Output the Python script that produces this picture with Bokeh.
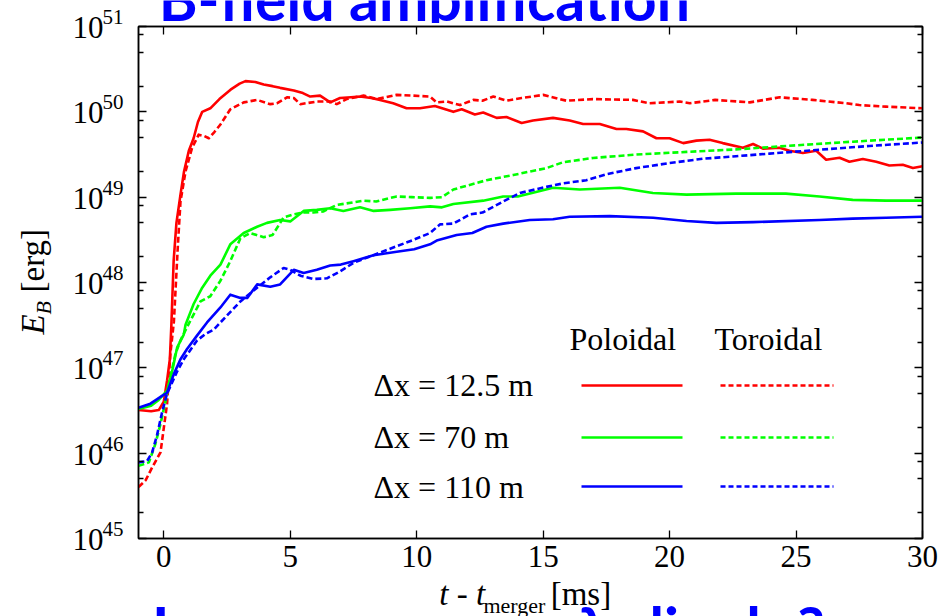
import numpy as np
from bokeh.plotting import figure
from bokeh.layouts import row, column
from bokeh.models import FixedTicker, LinearAxis, LogAxis, Label, CustomJSTickFormatter, Range1d
from bokeh.embed import file_html
from bokeh.resources import INLINE

# ---------------- data (t - t_merger [ms], E_B [erg]) ----------------
t_r_pol = [-1.0, -0.5, -0.2, 0.0, 0.13, 0.24, 0.3, 0.39, 0.5, 0.66, 0.8, 0.99, 1.18, 1.35, 1.52,
           1.84, 2.2, 2.64, 3.0, 3.23, 3.62, 3.95, 4.3, 4.6, 5.14, 5.5, 5.79, 6.18, 6.58, 6.97,
           7.4, 7.76, 8.2, 8.55, 9.07, 9.6, 10.13, 10.72, 11.45, 11.78, 12.3, 12.63, 13.16,
           13.55, 14.15, 14.6, 15.39, 16.05, 16.58, 17.24, 17.9, 18.29, 18.95, 19.48, 20.0,
           20.54, 21.06, 21.58, 22.1, 22.9, 23.3, 23.69, 24.35, 24.74, 25.27, 25.8, 26.19,
           26.72, 27.11, 27.64, 28.17, 28.69, 29.22, 29.62, 30.0]
E_r_pol = [3.2e46, 3.1e46, 3.2e46, 4.0e46, 7.1e46, 1.26e47, 3.2e47, 1.8e48, 5.0e48, 1.07e49,
           2.0e49, 3.5e49, 4.9e49, 7.6e49, 1.0e50, 1.1e50, 1.41e50, 1.82e50, 2.14e50, 2.29e50,
           2.24e50, 2.09e50, 2.0e50, 1.91e50, 1.78e50, 1.66e50, 1.51e50, 1.55e50, 1.29e50,
           1.45e50, 1.48e50, 1.51e50, 1.45e50, 1.38e50, 1.26e50, 1.1e50, 1.1e50, 1.17e50,
           1.0e50, 1.07e50, 9.3e49, 9.8e49, 8.5e49, 8.7e49, 7.4e49, 7.9e49, 8.5e49, 7.9e49,
           7.2e49, 7.2e49, 6.3e49, 6.3e49, 5.9e49, 4.9e49, 4.9e49, 4.3e49, 4.6e49, 4.7e49,
           4.3e49, 3.8e49, 4.2e49, 3.7e49, 3.8e49, 3.5e49, 3.3e49, 3.5e49, 2.75e49, 2.9e49,
           2.6e49, 2.8e49, 2.6e49, 2.35e49, 2.4e49, 2.2e49, 2.3e49]

t_r_tor = [-1.0, -0.72, -0.46, -0.13, 0.13, 0.26, 0.4, 0.55, 0.66, 0.86, 1.12, 1.38, 1.6, 1.78,
           2.0, 2.24, 2.63, 3.16, 3.69, 4.21, 4.47, 4.87, 5.14, 5.4, 6.05, 6.58, 6.84, 7.23,
           7.9, 8.42, 9.21, 9.87, 10.53, 10.79, 11.2, 11.71, 12.24, 12.6, 13.03, 13.55, 14.15,
           15.0, 15.92, 16.97, 18.55, 19.2, 20.4, 20.8, 21.8, 23.17, 24.35, 25.65, 26.98,
           27.5, 28.56, 30.0]
E_r_tor = [4.0e45, 4.8e45, 6.8e45, 1.02e46, 3.8e46, 1.45e47, 3.5e47, 2.5e48, 8.9e48, 2.0e49,
           3.8e49, 5.4e49, 5.2e49, 4.9e49, 5.8e49, 7.1e49, 1.07e50, 1.29e50, 1.38e50, 1.23e50,
           1.26e50, 1.48e50, 1.45e50, 1.23e50, 1.32e50, 1.32e50, 1.23e50, 1.41e50, 1.55e50,
           1.41e50, 1.58e50, 1.55e50, 1.51e50, 1.29e50, 1.32e50, 1.2e50, 1.38e50, 1.35e50,
           1.51e50, 1.35e50, 1.45e50, 1.58e50, 1.35e50, 1.41e50, 1.38e50, 1.26e50, 1.32e50,
           1.26e50, 1.38e50, 1.29e50, 1.48e50, 1.38e50, 1.26e50, 1.2e50, 1.15e50, 1.1e50]

t_g_pol = [-1.0, -0.5, -0.2, 0.13, 0.33, 0.53, 0.79, 0.86, 1.18, 1.52, 1.84, 2.24, 2.63, 3.16,
           3.69, 4.08, 4.6, 5.0, 5.53, 6.05, 6.58, 7.1, 7.76, 8.3, 8.95, 9.74, 10.53, 11.0,
           11.45, 12.63, 13.42, 14.0, 15.39, 16.45, 18.03, 19.34, 20.67, 22.63, 24.6, 25.93,
           27.24, 28.56, 30.0]
E_g_pol = [3.3e46, 3.6e46, 4.2e46, 5.4e46, 9.1e46, 1.74e47, 2.45e47, 3.2e47, 5.6e47, 8.7e47,
           1.2e48, 1.62e48, 2.8e48, 3.8e48, 4.5e48, 5.0e48, 5.4e48, 5.2e48, 6.9e48, 7.1e48,
           7.4e48, 6.9e48, 7.6e48, 6.9e48, 7.1e48, 7.4e48, 7.8e48, 7.6e48, 8.3e48, 9.1e48,
           1.02e49, 1.02e49, 1.29e49, 1.23e49, 1.29e49, 1.12e49, 1.07e49, 1.1e49, 1.1e49,
           1.02e49, 9.3e48, 9.1e48, 9.1e48]

t_g_tor = [-1.0, -0.59, -0.33, -0.13, 0.07, 0.26, 0.46, 0.66, 0.92, 1.12, 1.45, 1.84, 2.24,
           2.63, 3.03, 3.42, 3.95, 4.3, 4.74, 5.14, 5.5, 5.92, 6.3, 6.84, 7.9, 8.4, 9.21, 9.8,
           10.53, 11.0, 11.45, 12.76, 13.82, 15.13, 15.79, 16.97, 18.68, 20.67, 22.63, 24.61,
           27.24, 30.0]
E_g_tor = [7.1e45, 7.8e45, 1.29e46, 2.2e46, 4.1e46, 7.8e46, 1.45e47, 2.1e47, 3.0e47, 3.9e47,
           6.0e47, 6.9e47, 1.05e48, 1.78e48, 3.3e48, 3.8e48, 3.4e48, 3.6e48, 5.8e48, 6.3e48,
           6.6e48, 6.6e48, 6.8e48, 8.1e48, 9.1e48, 8.9e48, 1.02e49, 1.0e49, 9.8e48, 1.0e49,
           1.23e49, 1.58e49, 1.82e49, 2.19e49, 2.57e49, 2.88e49, 3.16e49, 3.39e49, 3.63e49,
           3.98e49, 4.47e49, 5.0e49]

t_b_pol = [-1.0, -0.53, -0.26, -0.07, 0.13, 0.4, 0.66, 0.92, 1.32, 1.71, 2.24, 2.63, 3.03, 3.3,
           3.69, 4.21, 4.6, 5.14, 5.53, 6.05, 6.58, 7.0, 7.5, 8.29, 9.21, 9.9, 10.53, 10.79,
           11.58, 12.2, 12.76, 13.42, 14.47, 15.39, 16.05, 17.63, 19.35, 20.67, 21.85, 23.3,
           25.93, 27.24, 28.56, 30.0]
E_b_pol = [3.4e46, 3.8e46, 4.3e46, 4.7e46, 5.1e46, 8.5e46, 1.26e47, 1.66e47, 2.4e47, 3.4e47,
           5.1e47, 7.2e47, 6.6e47, 6.6e47, 9.5e47, 8.9e47, 9.5e47, 1.41e48, 1.29e48, 1.41e48,
           1.58e48, 1.62e48, 1.78e48, 2.09e48, 2.29e48, 2.45e48, 2.8e48, 3.1e48, 3.6e48,
           3.8e48, 4.5e48, 4.9e48, 5.4e48, 5.5e48, 5.9e48, 6.0e48, 5.75e48, 5.25e48, 5.0e48,
           5.1e48, 5.4e48, 5.6e48, 5.75e48, 5.9e48]

t_b_tor = [-1.0, -0.66, -0.46, -0.26, -0.07, 0.13, 0.53, 0.79, 1.32, 1.65, 1.97, 2.5, 3.03,
           3.69, 4.21, 4.74, 5.0, 5.4, 5.92, 6.45, 6.97, 7.5, 8.55, 9.87, 10.53, 10.92, 11.45,
           12.11, 12.6, 13.42, 14.08, 15.13, 15.79, 16.71, 17.5, 18.68, 20.0, 21.32, 22.63,
           23.95, 25.27, 26.59, 27.9, 30.0]
E_b_tor = [7.8e45, 8.1e45, 1.02e46, 1.66e46, 3.0e46, 5.0e46, 9.1e46, 1.26e47, 2.1e47, 2.5e47,
           2.8e47, 4.1e47, 6.0e47, 8.7e47, 1.15e48, 1.48e48, 1.41e48, 1.2e48, 1.1e48, 1.12e48,
           1.35e48, 1.7e48, 2.24e48, 3.16e48, 3.8e48, 4.8e48, 4.9e48, 6.3e48, 6.6e48, 8.9e48,
           1.12e49, 1.32e49, 1.45e49, 1.58e49, 1.86e49, 2.19e49, 2.51e49, 2.82e49, 3.02e49,
           3.24e49, 3.47e49, 3.72e49, 3.98e49, 4.37e49]

x_ticks = [0, 5, 10, 15, 20, 25, 30]
y_exponents = [45, 46, 47, 48, 49, 50, 51]
y_minor_mult = [2, 5, 8]

legend_rows = ["\u0394x = 12.5 m", "\u0394x = 70 m", "\u0394x = 110 m"]
legend_cols = ["Poloidal", "Toroidal"]
colors = ["#ff0000", "#00ff00", "#0000ff"]

title_text = "B-field amplification"
bottom_parts = ["Is amp. a source", "\u03bb", "dipole", "?"]

# ---------------- layout constants (page pixels) ----------------
W, H = 944, 616
FL, FR, FT, FB = 138, 922, 26, 538          # plot frame
LW, TH, BTOP = 128, 23, 581                 # left strip width, top strip height, bottom strip top
X0, X1 = -1.0, 30.0
L0, L1 = 45.0, 51.0
SERIF = "Liberation Serif"
SANS = "Lato"
BLUE = "#0000ff"
K_SERIF = 0.3375   # baseline-to-middle distance (em) used to place text by its baseline
K_SANS = 0.305


def dx(px):
    return X0 + (px - FL) / (FR - FL) * (X1 - X0)


def dy(py):
    return 10.0 ** (L1 - (py - FT) / (FB - FT) * (L1 - L0))


def mid(base, size, k=K_SERIF):
    # middle-anchor position for a text whose baseline should be at `base` (page px, y down)
    return base - k * size


def strip(width, height, xr, yr, ylog=False):
    f = figure(width=width, height=height, x_range=xr, y_range=yr,
               y_axis_type="log" if ylog else "linear",
               x_axis_location=None, y_axis_location=None,
               output_backend="svg", toolbar_location=None,
               min_border_left=0, min_border_right=0, min_border_top=0, min_border_bottom=0)
    f.outline_line_color = None
    f.grid.visible = False
    f.background_fill_color = "white"
    f.border_fill_color = "white"
    f.title.visible = False
    return f


# ---------------- main plot ----------------
PW, PH = W - LW, BTOP - TH
p = figure(width=PW, height=PH, x_range=Range1d(X0, X1), y_range=Range1d(10.0 ** L0, 10.0 ** L1),
           y_axis_type="log", output_backend="svg", toolbar_location=None,
           min_border_left=FL - LW, min_border_right=W - FR, min_border_top=FT - TH,
           min_border_bottom=PH - (FB - TH))
p.title.visible = False
p.background_fill_color = "white"
p.border_fill_color = "white"
p.outline_line_color = "black"
p.outline_line_width = 1.5
p.grid.visible = False

y_major = [10.0 ** e for e in y_exponents]
y_minor = [m * 10.0 ** e for e in y_exponents[:-1] for m in y_minor_mult]
blank = CustomJSTickFormatter(code="return ''")

xa = p.xaxis[0]
xa.ticker = FixedTicker(ticks=x_ticks, minor_ticks=[])
ya = p.yaxis[0]
ya.ticker = FixedTicker(ticks=y_major, minor_ticks=y_minor)
ya.formatter = blank
top = LinearAxis(ticker=FixedTicker(ticks=x_ticks, minor_ticks=[]), formatter=blank)
right = LogAxis(ticker=FixedTicker(ticks=y_major, minor_ticks=y_minor), formatter=blank)
p.add_layout(top, "above")
p.add_layout(right, "right")

for ax in (xa, ya, top, right):
    ax.major_tick_in = 8
    ax.major_tick_out = 0
    ax.minor_tick_in = 5
    ax.minor_tick_out = 0
    ax.axis_line_width = 1.5
    ax.axis_line_color = "black"
    ax.major_tick_line_width = 1.3
    ax.minor_tick_line_width = 1.3
    ax.major_label_text_font = SERIF
    ax.major_label_text_color = "black"
    ax.major_label_text_font_size = "31px"
for ax in (ya, top, right):
    ax.major_label_text_font_size = "1px"
    ax.major_label_standoff = 0
xa.major_label_standoff = 7

series = [
    (t_r_pol, E_r_pol, colors[0], "solid"), (t_r_tor, E_r_tor, colors[0], "6 3"),
    (t_g_pol, E_g_pol, colors[1], "solid"), (t_g_tor, E_g_tor, colors[1], "6 3"),
    (t_b_pol, E_b_pol, colors[2], "solid"), (t_b_tor, E_b_tor, colors[2], "6 3"),
]
for t, E, c, d in series:
    p.line(t, E, line_color=c, line_width=2.6, line_dash=d, line_join="round")


def serif_label(fig, x, y, text, size, **kw):
    fig.add_layout(Label(x=x, y=y, text=text, text_font=SERIF, text_font_size=f"{size}px",
                         text_baseline="middle", text_color="black", **kw))


def sans_label(fig, x, base, text, size=59):
    fig.add_layout(Label(x=x, y=mid(base, size, K_SANS), text=text, text_font=SANS,
                         text_font_style="bold", text_font_size=f"{size}px", text_color=BLUE,
                         text_align="left", text_baseline="middle"))


# legend (label column + two sample columns), inside the frame
col_x = [569, 714]
row_base = [395, 447, 497]
row_line = [385, 437, 486]
for txt, cx in zip(legend_cols, col_x):
    serif_label(p, dx(cx), dy(mid(349, 32)), txt, 32, text_align="left")
for i, txt in enumerate(legend_rows):
    serif_label(p, dx(373), dy(mid(row_base[i], 32)), txt, 32, text_align="left")
    p.segment(x0=[dx(581)], x1=[dx(682)], y0=[dy(row_line[i])], y1=[dy(row_line[i])],
              line_color=colors[i], line_width=2.6)
    p.segment(x0=[dx(720)], x1=[dx(833)], y0=[dy(row_line[i])], y1=[dy(row_line[i])],
              line_color=colors[i], line_width=2.6, line_dash="5 3")

# ---------------- left strip: y tick labels (10^n) and y-axis title ----------------
left = strip(LW, H, Range1d(0, LW), Range1d(dy(H), dy(0)), ylog=True)
for e in y_exponents:
    serif_label(left, 103, 10.0 ** e, "10", 31, text_align="right", y_offset=-1)
    serif_label(left, 102, 10.0 ** e, str(e), 21, text_align="left", y_offset=9.5)
serif_label(left, 44 - K_SERIF * 33, dy(334), "E", 33, text_align="left",
            text_font_style="italic", angle=np.pi / 2)
serif_label(left, 50 - K_SERIF * 22, dy(314), "B", 22, text_align="left",
            text_font_style="italic", angle=np.pi / 2)
serif_label(left, 44 - K_SERIF * 33, dy(292), "[erg]", 33, text_align="left", angle=np.pi / 2)

# ---------------- top strip: slide title (cropped by the window) ----------------
topstrip = strip(W - LW, TH, Range1d(LW, W), Range1d(TH, 0))
sans_label(topstrip, 149, 16, title_text)

# ---------------- bottom strip: x-axis title and slide text ----------------
bottom = strip(W - LW, H - BTOP, Range1d(LW, W), Range1d(H, BTOP))
for txt, bx in zip(bottom_parts, [142, 586, 640, 814]):
    sans_label(bottom, bx, 645, txt)
serif_label(bottom, 441, mid(605, 33), "t - t", 33, text_align="left", text_font_style="italic")
serif_label(bottom, 487, mid(612, 22), "merger", 22, text_align="left")
serif_label(bottom, 557, mid(605, 33), "[ms]", 33, text_align="left")

layout = row(left, column(topstrip, p, bottom))
open("out.html", "w").write(file_html(layout, INLINE))
